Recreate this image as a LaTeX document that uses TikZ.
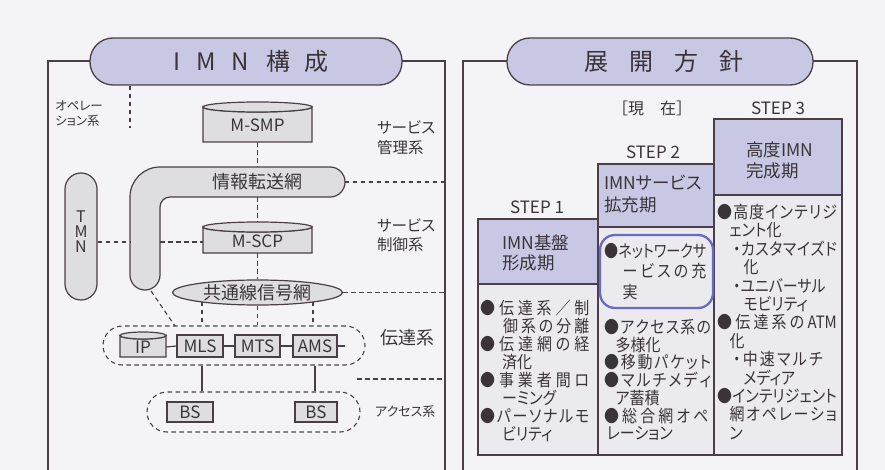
\documentclass[tikz,border=0pt]{standalone}
\usepackage{fontspec}
\usepackage{graphicx}
\setmainfont{Noto Sans CJK JP}
\newfontfamily\jp[RawFeature=+palt]{Noto Sans CJK JP}
\usetikzlibrary{shapes.geometric}
\definecolor{bgc}{HTML}{F4F4F6}
\definecolor{lnc}{HTML}{4A3F48}
\definecolor{lavc}{HTML}{C8C8E4}
\definecolor{grc}{HTML}{DEDEE1}
\definecolor{cntc}{HTML}{EBEBEF}
\definecolor{txc}{HTML}{3A3438}
\definecolor{bluc}{HTML}{6B69C6}
\newcommand\fs[2]{\fontsize{#1}{#2}\selectfont}
\newdimen\JSw
\newbox\JSb
\def\JLend{}
\def\JLaux#1{\ifx#1\JLend\else\hfil#1\expandafter\JLaux\fi}
\def\JLfirst#1{#1\JLaux}
\newcommand\JS[3]{\hspace*{#1}\setbox\JSb\hbox{#3}%
  \JSw=\dimexpr\linewidth-#1-#2\relax
  \ifdim\wd\JSb>\JSw\resizebox{\JSw}{\height}{#3}%
  \else\makebox[\JSw][s]{\JLfirst#3\JLend}\fi}
\newcommand\ATM{\mbox{ATM}}
\newcommand\cyl[5]{%
  \filldraw[shp] (#1,#3+#5) -- (#1,#4) -- (#2,#4) -- (#2,#3+#5)
    arc[start angle=0,end angle=180,x radius={(#2-#1)/2},y radius=#5] -- cycle;
  \filldraw[shp] ({(#1+#2)/2},#3+#5) ellipse[x radius={(#2-#1)/2},y radius=#5];}
\begin{document}
\begin{tikzpicture}[x=1pt,y=-1pt,
  frm/.style={draw=lnc,line width=1.3pt},
  ln/.style={draw=lnc,line width=1.2pt},
  dsh/.style={draw=lnc,line width=1.1pt,dash pattern=on 4.5pt off 3.5pt},
  shp/.style={draw=lnc,line width=1.2pt,fill=grc},
  lbl/.style={text=txc,inner sep=0pt},
  boxn/.style={draw=lnc,line width=1.2pt,fill=grc,inner sep=0pt,minimum height=22pt,text=txc,font=\fs{17}{17}},
  ttl/.style={draw=lnc,line width=1.3pt,fill=lavc,rounded corners=23pt,minimum height=47pt,text=txc,font=\fs{24}{24}},
  col/.style={text=txc,inner sep=0pt,align=left,anchor=base west,xscale=0.88,transform shape}]
\fill[bgc] (0,0) rectangle (885,470);
\useasboundingbox (0,0) rectangle (885,470);
% ---------------- left panel
\draw[frm] (48,470) -- (48,61) -- (445,61) -- (445,470);
\coordinate (frL) at (445,61);
\node[ttl,minimum width=312pt] (ttlL) at (246,61.5) {\hspace*{10pt}I\hspace{16pt}M\hspace{16pt}N\hspace{18pt}構\hspace{14pt}成};
\node[lbl,font=\jp\fs{12.5}{15},align=left,anchor=west] (ope) at (55,114) {オペレー\\ション系};
\coordinate (opEnd) at (130,128);
\draw[dsh] (ttlL.south -| opEnd) -- (opEnd);
% M-SMP
\cyl{203}{312}{102}{142}{5}
\node[minimum width=109pt,minimum height=40pt,inner sep=0pt] (msmp) at (257.5,122) {};
\node[lbl,font=\fs{17}{17}] (msmpt) at (257.5,125) {M-SMP};
\node[lbl,font=\jp\fs{15.5}{19.5},align=left,anchor=west] (kanri) at (377,137.5) {サービス\\管理系};
% info net
\filldraw[shp] (130,275) -- (130,197) arc[start angle=180,end angle=270,radius=30]
  -- (330,167) arc[start angle=270,end angle=450,radius=15]
  -- (170,197) arc[start angle=270,end angle=180,radius=10]
  -- (160,275) arc[start angle=0,end angle=180,radius=15] -- cycle;
\node[lbl,font=\fs{18}{18},minimum width=174pt,minimum height=30pt] (infonet) at (257.5,182) {情報転送網};
\draw[dsh] (msmp.south) -- (infonet.north);
\draw[dsh] (infonet.east) -- (infonet.east -| frL);
% TMN
\node[shp,rounded corners=16pt,minimum width=32pt,minimum height=127pt,inner sep=0pt] (tmn) at (81,236.5) {};
\node[lbl,font=\fs{16}{15},align=center] (tmnt) at (81,232) {T\\M\\N};
% M-SCP
\cyl{203}{312}{222}{253}{5}
\node[minimum width=109pt,minimum height=31pt,inner sep=0pt] (mscp) at (257.5,237.5) {};
\node[lbl,font=\fs{17}{17}] (mscpt) at (257.5,241) {M-SCP};
\node[lbl,font=\jp\fs{15.5}{19.5},align=left,anchor=west] (seigyo) at (377,235) {サービス\\制御系};
\draw[dsh] (infonet.south) -- (mscp.north);
\coordinate (barL) at (130,242);
\coordinate (barR) at (160,242);
\draw[dsh] (tmn.east |- barL) -- (barL);
\draw[dsh] (barR) -- (mscp.west |- barR);
% common channel signalling
\node[shp,ellipse,minimum width=170pt,minimum height=25pt,inner sep=0pt,text=txc,font=\fs{18}{18}] (kyo) at (257.5,292.5) {共通線信号網};
\draw[dsh] (mscp.south) -- (kyo.north);
\draw[dsh] (kyo.east) -- (kyo.east -| frL);
% transport
\node[dsh,rounded corners=19.5pt,minimum width=262pt,minimum height=39pt,inner sep=0pt] (denso) at (234,345.5) {};
\coordinate (d0) at (175,326);
\coordinate (d1) at (202,326);
\coordinate (d3) at (313,326);
\coordinate (barB) at (151,291);
\draw[dsh] (kyo.south west -| d1) -- (d1 |- denso.north);
\draw[dsh] (kyo.south) -- (kyo.south |- denso.north);
\draw[dsh] (kyo.south east -| d3) -- (d3 |- denso.north);
\draw[dsh] (barB) -- (d0);
\cyl{120}{166}{332}{357}{3.5}
\node[minimum width=46pt,minimum height=22pt,inner sep=0pt,text=txc,font=\fs{17}{17}] (ip) at (143,347) {IP};
\node[boxn,minimum width=46pt] (mls) at (200,346) {MLS};
\node[boxn,minimum width=45pt] (mts) at (257.5,346) {MTS};
\node[boxn,minimum width=44pt] (ams) at (315,346) {AMS};
\coordinate (amsEnd) at (345,346);
\draw[ln] (ip.east) -- (mls.west);
\draw[ln] (mls.east) -- (mts.west);
\draw[ln] (mts.east) -- (ams.west);
\draw[ln] (ams.east) -- (amsEnd);
\node[lbl,font=\fs{18}{18},anchor=west] (dentatsu) at (380,338) {伝達系};
\coordinate (sepA) at (357,379);
\draw[dsh] (sepA) -- (sepA -| frL);
% access
\node[dsh,rounded corners=20pt,minimum width=213pt,minimum height=40pt,inner sep=0pt] (acc) at (253.5,412) {};
\node[boxn,minimum width=46pt,minimum height=20pt] (bs1) at (190,412) {BS};
\node[boxn,minimum width=42pt,minimum height=20pt] (bs2) at (316,412) {BS};
\coordinate (s1) at (202,365);
\coordinate (s2) at (315,365);
\draw[ln] (s1 |- denso.south) -- (s1 |- acc.north);
\draw[ln] (s2 |- denso.south) -- (s2 |- acc.north);
\node[lbl,font=\jp\fs{13}{13},anchor=west] (akusesu) at (375,412) {アクセス系};
% ---------------- right panel
\draw[frm] (463,470) -- (463,61) -- (857,61) -- (857,470);
\node[ttl,minimum width=306pt] (ttlR) at (660,61.5) {\hspace*{8pt}展\hspace{21pt}開\hspace{21pt}方\hspace{21pt}針};
\node[lbl,font=\fs{16}{16}] (genzai) at (652,108) {［現　在］};
\node[lbl,font=\fs{17}{17}] (st3) at (778,108) {STEP 3};
\node[lbl,font=\fs{17}{17}] (st2) at (653,152) {STEP 2};
\node[lbl,font=\fs{17}{17}] (st1) at (537,207) {STEP 1};
\filldraw[ln,fill=lavc] (478,219) rectangle (598,284);
\filldraw[ln,fill=cntc] (478,284) rectangle (598,455);
\filldraw[ln,fill=lavc] (598,164) rectangle (714,227);
\filldraw[ln,fill=cntc] (598,227) rectangle (714,455);
\filldraw[ln,fill=lavc] (714,119) rectangle (842,195);
\filldraw[ln,fill=cntc] (714,195) rectangle (842,455);
\draw[lnc,line width=2.6pt] (478,219) -- (598,219);
\node[lbl,font=\jp\fs{17.5}{20},align=left,anchor=west] (h1) at (502,252.5) {IMN基盤\\形成期};
\node[lbl,font=\jp\fs{17.5}{21.5},align=left,anchor=west] (h2) at (604,194) {IMNサービス\\拡充期};
\node[lbl,font=\jp\fs{17.5}{21},align=left,anchor=west] (h3) at (746,160) {高度IMN\\完成期};
\draw[bluc,line width=2.3pt,rounded corners=15pt] (600,235) rectangle (713,308);
\node[col,font=\jp\fs{17}{18},text width=124pt] (c1) at (480,314.5) {%
\JS{0pt}{0pt}{●伝達系／制}\\
\JS{26pt}{0pt}{御系の分離}\\
\JS{0pt}{0pt}{●伝達網の経}\\
\hspace*{25pt}済化\\
\JS{0pt}{0pt}{●事業者間ロ}\\
\hspace*{25pt}ーミング\\
\JS{0pt}{0pt}{●パーソナルモ}\\
\hspace*{25pt}ビリティ};
\node[col,font=\jp\fs{17}{20.5},text width=116pt] (c2a) at (604,257.5) {%
\JS{0pt}{0pt}{●ネットワークサ}\\
\JS{21pt}{0pt}{ービスの充}\\
\hspace*{21pt}実};
\node[col,font=\jp\fs{17}{17.7},text width=121.5pt] (c2b) at (604,333.5) {%
\JS{0pt}{0pt}{●アクセス系の}\\
\hspace*{13pt}多様化\\
\JS{0pt}{0pt}{●移動パケット}\\
\JS{0pt}{0pt}{●マルチメディ}\\
\hspace*{13pt}ア蓄積\\
\JS{0pt}{3pt}{●総合網オペ}\\
\hspace*{3pt}レーション};
\node[col,font=\jp\fs{17}{18.4},text width=136pt] (c3) at (717,218.5) {%
\JS{0pt}{0pt}{●高度インテリジ}\\
\hspace*{14pt}ェント化\\
\JS{18pt}{0pt}{・カスタマイズド}\\
\hspace*{30pt}化\\
\hspace*{18pt}・ユニバーサル\\
\hspace*{30pt}モビリティ\\
\JS{0pt}{0pt}{●伝達系の\ATM}\\
\hspace*{14pt}化\\
\JS{18pt}{16pt}{・中速マルチ}\\
\hspace*{30pt}メディア\\
\JS{0pt}{0pt}{●インテリジェント}\\
\JS{14pt}{0pt}{網オペレーショ}\\
\hspace*{14pt}ン};
\end{tikzpicture}
\end{document}
